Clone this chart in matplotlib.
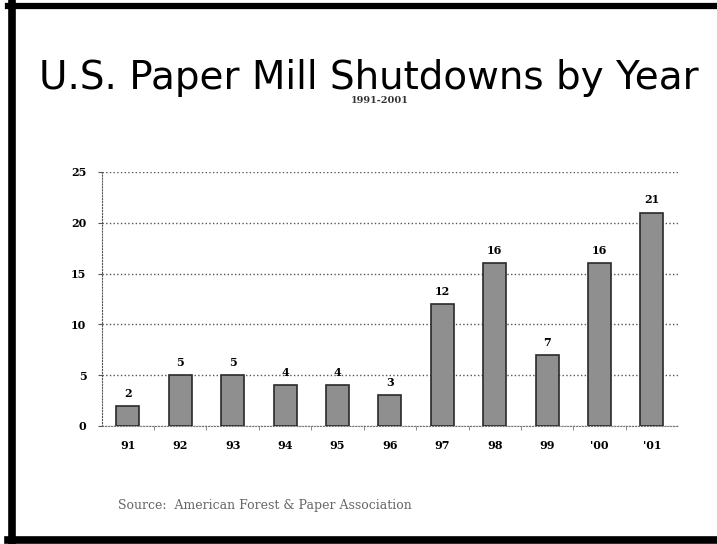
import matplotlib.pyplot as plt
from matplotlib.lines import Line2D

years = ["91", "92", "93", "94", "95", "96", "97", "98", "99", "'00", "'01"]
shutdowns = [2, 5, 5, 4, 4, 3, 12, 16, 7, 16, 21]
y_ticks = [0, 5, 10, 15, 20, 25]

fig = plt.figure(figsize=(7.17, 5.44), dpi=100)
fig.patch.set_facecolor('white')

# frame round the slide: left, top and bottom only
fig.add_artist(Line2D([11.5 / 717, 11.5 / 717], [0, 1 - 3 / 544], transform=fig.transFigure,
                      color='black', linewidth=5.5))
fig.add_artist(Line2D([8 / 717, 1], [1 - 5.5 / 544, 1 - 5.5 / 544], transform=fig.transFigure,
                      color='black', linewidth=4.5))
fig.add_artist(Line2D([8 / 717, 1], [4 / 544, 4 / 544], transform=fig.transFigure,
                      color='black', linewidth=5.5))

fig.text(0.515, 0.857, "U.S. Paper Mill Shutdowns by Year", ha='center', va='center',
         fontsize=28, family='DejaVu Sans')
fig.text(0.53, 0.815, "1991-2001", ha='center', va='center', fontsize=7,
         family='DejaVu Serif', fontweight='bold', color='#333333')
fig.text(0.165, 0.071, "Source:  American Forest & Paper Association", ha='left', va='center',
         fontsize=9, family='DejaVu Serif', color='#666666')

ax = fig.add_axes([0.1418, 0.217, 0.804, 0.467])
x = range(len(years))
bars = ax.bar(x, shutdowns, width=0.44, color='#8f8f8f', edgecolor='#2a2a2a',
              linewidth=1.2, zorder=3)
for xi, v in zip(x, shutdowns):
    ax.text(xi, v + 0.7, str(v), ha='center', va='bottom', fontsize=8,
            family='DejaVu Serif', fontweight='bold')

ax.set_xlim(-0.5, len(years) - 0.5)
ax.set_ylim(0, 25)
ax.set_yticks(y_ticks)
ax.set_yticklabels([str(t) for t in y_ticks], family='DejaVu Serif', fontweight='bold', fontsize=8)
ax.set_xticks(list(x))
ax.set_xticklabels(years, family='DejaVu Serif', fontweight='bold', fontsize=8)
ax.tick_params(axis='x', length=0, pad=10)
ax.tick_params(axis='y', length=3, pad=8, color='#555555')
ax.set_xticks([i + 0.5 for i in range(len(years) - 1)], minor=True)
ax.tick_params(axis='x', which='minor', length=3, color='#777777')

ax.grid(axis='y', linestyle=':', color='#555555', linewidth=1, zorder=0)
for s in ['top', 'right']:
    ax.spines[s].set_visible(False)
ax.spines['left'].set_linestyle(':')
ax.spines['left'].set_color('#555555')
ax.spines['bottom'].set_linestyle(':')
ax.spines['bottom'].set_color('#777777')

fig.savefig('out.png', dpi=100)
